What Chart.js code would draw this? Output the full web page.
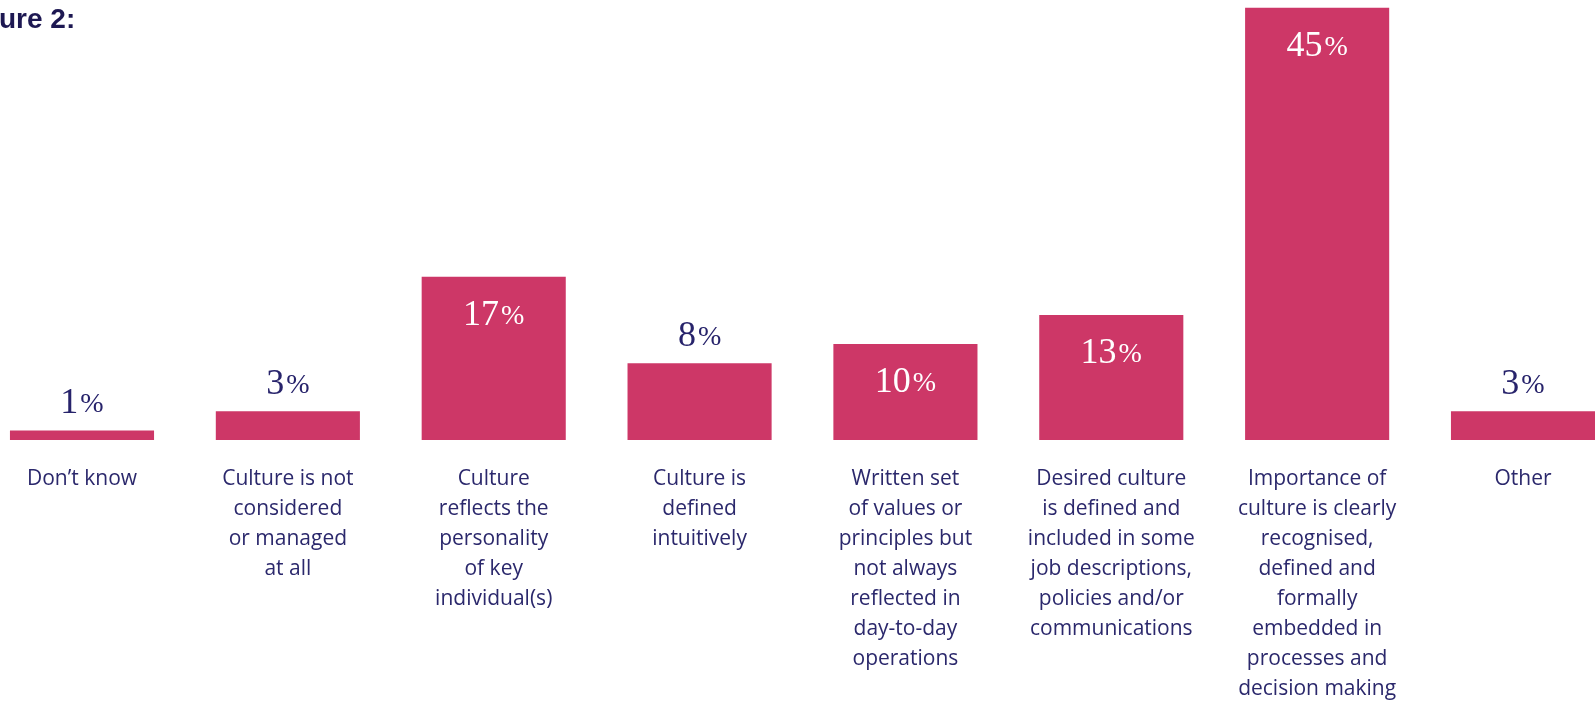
<!DOCTYPE html>
<html>
<head>
<meta charset="utf-8">
<style>
  html, body { margin: 0; padding: 0; background: #ffffff; overflow: hidden; }
  #wrap { position: relative; width: 1595px; height: 701px; }
  canvas { display: block; }
</style>
<script src="https://cdn.jsdelivr.net/npm/chart.js@4/dist/chart.umd.min.js"></script>
</head>
<body>
<div id="wrap"><canvas id="c" width="1595" height="701"></canvas></div>
<script>
// Survey answers: how organisational culture is handled
const categories = [
  ["Don’t know"],
  ["Culture is not", "considered", "or managed", "at all"],
  ["Culture", "reflects the", "personality", "of key", "individual(s)"],
  ["Culture is", "defined", "intuitively"],
  ["Written set", "of values or", "principles but", "not always", "reflected in", "day-to-day", "operations"],
  ["Desired culture", "is defined and", "included in some", "job descriptions,", "policies and/or", "communications"],
  ["Importance of", "culture is clearly", "recognised,", "defined and", "formally", "embedded in", "processes and", "decision making"],
  ["Other"]
];
const shares = [1, 3, 17, 8, 10, 13, 45, 3];
const figureTitle = "Figure 2:";

const BAR = "#cd3767";
const NAVY = "#27236b";

// Percentage labels: big serif number with a smaller % sign,
// inside the bar for the taller bars, above it for the short ones.
const valueLabels = {
  id: "valueLabels",
  afterDatasetsDraw(chart) {
    const ctx = chart.ctx;
    const meta = chart.getDatasetMeta(0);
    ctx.save();
    ctx.textBaseline = "alphabetic";
    ctx.textAlign = "left";
    meta.data.forEach((bar, i) => {
      const v = shares[i];
      const num = String(v);
      const numFont = '36px "Liberation Serif", serif';
      const pctFont = '28px "Liberation Serif", serif';
      ctx.font = numFont;
      const wNum = ctx.measureText(num).width;
      ctx.font = pctFont;
      const wPct = ctx.measureText("%").width;
      const gap = 2;
      const total = wNum + gap + wPct;
      const inside = v >= 10;
      const y = inside ? bar.y + 48 : bar.y - 17;
      const x0 = bar.x - total / 2;
      ctx.fillStyle = inside ? "#ffffff" : NAVY;
      ctx.font = numFont;
      ctx.fillText(num, x0, y);
      ctx.font = pctFont;
      ctx.fillText("%", x0 + wNum + gap, y - 1);
    });
    ctx.restore();
  }
};

// Figure caption in the top-left corner
const caption = {
  id: "caption",
  afterDraw(chart) {
    const ctx = chart.ctx;
    ctx.save();
    ctx.font = 'bold 28px "Liberation Sans", Arial, sans-serif';
    ctx.fillStyle = "#1d1852";
    ctx.textBaseline = "alphabetic";
    ctx.textAlign = "left";
    ctx.fillText(figureTitle, -43, 28);
    ctx.restore();
  }
};

new Chart(document.getElementById("c"), {
  type: "bar",
  data: {
    labels: categories,
    datasets: [{
      data: shares,
      backgroundColor: BAR,
      borderWidth: 0,
      categoryPercentage: 1,
      barPercentage: 0.7,
      clip: false
    }]
  },
  options: {
    responsive: false,
    devicePixelRatio: 1,
    animation: false,
    layout: { padding: { left: 82, right: 72, top: 0, bottom: 0 } },
    plugins: {
      legend: { display: false },
      tooltip: { enabled: false },
      title: { display: false }
    },
    scales: {
      x: {
        offset: false,
        grid: { display: false, drawTicks: false },
        border: { display: false },
        ticks: {
          autoSkip: false,
          maxRotation: 0,
          minRotation: 0,
          padding: 24,
          color: "#2b286c",
          font: { family: '"Open Sans", sans-serif', size: 21, lineHeight: "30px" }
        },
        afterFit(scale) { scale.height = 261; }
      },
      y: {
        display: false,
        min: 0,
        max: 45.8
      }
    }
  },
  plugins: [valueLabels, caption]
});
</script>
</body>
</html>
